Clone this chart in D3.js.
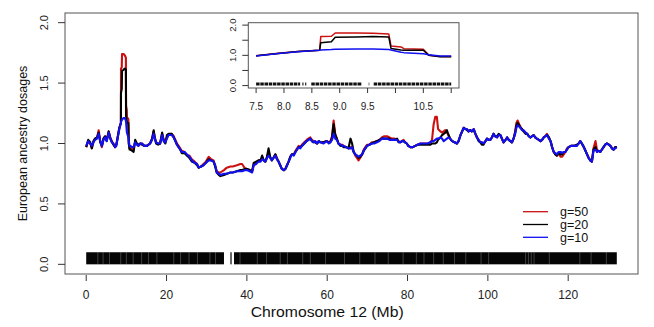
<!DOCTYPE html>
<html><head><meta charset="utf-8">
<script src="https://cdn.jsdelivr.net/npm/d3@7"></script>
<style>
html,body{margin:0;padding:0;background:#fff;}
svg{display:block;font-family:"Liberation Sans",Arial,Helvetica,sans-serif;}
</style></head>
<body>
<svg id="chart" width="654" height="327"></svg>
<script>
// ---------------- DATA ----------------
const positions = [
  0,0.5,1,1.4,1.8,2.2,2.7,3.1,3.5,3.9,4.3,4.7,5.1,5.6,6.0,6.4,6.8,7.2,7.5,7.9,
  8.25,8.64,8.66,8.85,8.92,9.3,9.6,9.88,9.92,10.1,10.15,10.5,10.6,10.8,11.0,11.4,11.8,
  12.2,12.6,13.0,13.5,13.9,14.5,15.1,15.9,16.4,16.8,17.1,17.4,17.9,18.4,18.9,19.3,19.7,20.1,20.5,21.3,21.8,22.2,22.6,23.0,23.4,23.8,
  24.5,25.1,25.7,26.3,27.0,27.6,28.0,28.6,29.2,29.8,30.5,31.1,31.7,32.1,32.5,33.0,33.4,
  34.3,35.0,35.9,36.5,37.5,38.4,38.8,39.6,40.0,40.7,41.3,41.7,42.3,42.9,43.4,43.8,44.2,44.6,45.0,45.4,45.8,46.2,46.6,47.1,47.5,47.9,48.3,48.7,49.2,49.6,
  50.0,50.4,50.8,51.2,51.7,52.1,52.5,52.9,53.3,53.7,54.3,54.9,55.3,55.8,56.2,56.6,57.0,57.5,57.9,58.3,59.1,59.9,60.4,60.8,61.2,61.6,62.0,62.4,62.8,
  63.3,63.7,64.1,64.7,65.3,65.8,66.2,66.6,67.0,67.4,67.8,68.2,68.7,69.1,69.5,69.9,70.5,71.1,71.7,72.4,73.0,73.6,74.2,74.9,75.5,76.1,76.8,77.4,77.8,78.2,78.6,79.0,79.4,79.8,
  80.2,80.7,81.3,81.9,82.5,83.2,83.8,84.4,85.0,85.7,86.1,86.5,86.9,87.3,87.6,88.2,88.6,89.0,89.4,89.8,90.2,90.6,91.1,91.7,92.3,92.7,93.2,93.6,94.0,94.4,94.8,95.2,95.6,96.0,96.5,96.9,97.3,97.7,98.1,98.5,98.9,
  99.4,99.8,100.2,100.6,101.0,101.4,101.8,102.3,102.7,103.1,103.5,103.9,104.4,104.8,105.2,105.6,106.0,106.4,106.8,107.1,107.4,107.8,108.1,108.5,108.9,109.4,109.8,110.2,110.6,111.0,111.4,111.8,112.2,112.7,113.1,113.5,113.9,114.3,114.7,115.2,115.6,
  116.0,116.4,116.8,117.2,117.6,118.1,118.5,118.9,119.3,119.7,120.1,120.7,121.4,122.2,122.6,123.0,123.4,123.9,124.3,124.7,125.1,125.5,125.9,126.3,126.8,127.2,127.6,128.0,128.4,128.8,129.2,129.7,130.1,130.5,130.9,131.3,131.7,132.1
];
const g10 = [
  .98,1.02,1.00,.98,1.01,1.03,1.04,1.08,1.02,.98,1.03,1.05,1.02,1.09,1.04,1.01,1.00,.97,.98,1.06,
  1.12,1.17,1.18,1.19,1.20,1.21,1.21,1.19,1.18,1.10,1.09,1.05,1.02,.98,.98,.97,.97,
  1.01,.99,.98,1.00,1.00,.98,.98,1.00,1.03,1.08,1.04,1.01,1.00,1.00,1.07,1.02,1.01,1.04,1.07,1.07,1.05,1.02,.99,.97,.95,.93,
  .93,.91,.89,.86,.84,.83,.80,.81,.82,.84,.86,.86,.85,.82,.76,.75,.74,
  .75,.75,.76,.76,.77,.77,.77,.78,.78,.77,.76,.82,.83,.85,.85,.87,.86,.85,.88,.90,.88,.86,.88,.90,.87,.85,.82,.79,.78,.79,
  .82,.85,.88,.91,.90,.93,.95,.97,.96,.98,1.00,1.02,1.03,1.04,1.02,1.01,1.02,1.00,1.02,1.01,1.00,1.02,1.00,1.01,1.03,1.08,1.04,1.03,1.00,
  .99,.98,.98,.97,.96,.96,.97,.93,.91,.90,.89,.90,.91,.94,.96,.98,.99,1.00,1.00,1.01,1.02,1.04,1.04,1.04,1.03,1.03,1.03,1.03,1.01,1.01,1.02,1.02,1.01,1.00,
  .98,.97,.97,.98,.99,1.00,1.00,1.00,1.00,1.01,1.02,1.02,1.03,1.04,1.04,1.05,1.04,1.02,1.03,1.04,1.05,1.04,1.02,1.01,1.00,1.02,1.07,1.10,1.13,1.12,1.12,1.10,1.11,1.10,1.12,1.08,1.05,1.03,1.01,1.01,1.00,
  1.02,1.04,1.03,1.03,1.05,1.08,1.06,1.05,1.07,1.07,1.04,1.01,1.03,1.05,1.03,1.02,1.01,1.04,1.08,1.13,1.15,1.14,1.13,1.11,1.11,1.09,1.08,1.06,1.05,1.06,1.07,1.05,1.04,1.03,1.02,1.03,1.05,1.06,1.07,1.04,1.02,
  .97,.93,.92,.91,.93,.93,.92,.93,.93,.95,.97,.98,.98,.98,1.00,1.02,1.00,.97,.94,.91,.88,.86,.85,.94,.95,.93,.94,.93,.95,.97,.99,1.00,.99,.98,.96,.95,.96,.97
];
const g20 = [
  .97,1.03,1.01,.96,1.02,1.04,1.05,1.09,1.01,.98,1.04,1.06,1.02,1.10,1.04,1.01,.99,.97,.99,1.06,
  1.13,1.17,1.42,1.45,1.60,1.61,1.62,1.61,1.23,1.18,1.17,1.17,1.00,.95,.95,.94,.93,
  1.03,1.00,.99,1.00,.99,.98,.98,1.00,1.04,1.11,1.04,1.00,.99,1.00,1.09,1.02,1.00,1.07,1.08,1.08,1.05,1.02,.99,.97,.95,.92,
  .92,.90,.88,.85,.84,.82,.80,.81,.82,.84,.87,.86,.85,.81,.76,.74,.73,
  .74,.75,.76,.76,.77,.78,.78,.79,.79,.78,.77,.84,.85,.86,.86,.90,.86,.85,.89,.96,.89,.86,.88,.91,.87,.85,.82,.79,.78,.79,
  .82,.85,.89,.91,.91,.93,.95,.97,.97,.98,1.00,1.02,1.03,1.04,1.02,1.01,1.01,1.00,1.02,1.01,1.01,1.02,1.01,1.01,1.05,1.16,1.07,1.04,1.00,
  .98,.98,.97,.97,.96,1.04,1.00,.93,.91,.90,.88,.89,.91,.94,.96,.98,.99,1.00,1.01,1.02,1.03,1.04,1.04,1.04,1.04,1.03,1.03,1.04,1.01,1.01,1.02,1.02,1.01,1.00,
  .98,.97,.97,.98,.99,.99,.99,.99,.99,.99,1.00,1.00,1.00,1.01,1.03,1.05,1.07,1.08,1.09,1.11,1.07,1.04,1.02,1.01,1.00,1.02,1.07,1.10,1.13,1.12,1.11,1.10,1.11,1.10,1.11,1.08,1.05,1.02,1.01,.99,.99,
  1.02,1.04,1.03,1.03,1.05,1.08,1.06,1.06,1.08,1.07,1.04,1.01,1.03,1.05,1.03,1.02,1.01,1.04,1.09,1.15,1.17,1.15,1.13,1.12,1.10,1.08,1.08,1.06,1.05,1.06,1.07,1.05,1.04,1.03,1.02,1.03,1.05,1.06,1.07,1.05,1.02,
  .97,.93,.91,.90,.92,.91,.91,.93,.93,.95,.97,.98,.98,.99,1.00,1.02,1.00,.97,.94,.91,.88,.86,.85,.95,.97,.93,.94,.93,.95,.97,.99,1.00,.99,.98,.96,.95,.97,.97
];
const g50 = [
  .97,1.02,1.00,.96,1.01,1.04,1.05,1.11,1.02,.97,1.04,1.06,1.03,1.10,1.05,1.02,.99,.97,.99,1.07,
  1.13,1.17,1.62,1.63,1.74,1.74,1.73,1.71,1.31,1.28,1.22,1.20,1.00,.96,.96,.96,.95,
  1.02,1.00,.98,1.00,1.00,.98,.98,1.00,1.04,1.10,1.05,1.01,1.00,1.00,1.08,1.03,1.01,1.05,1.07,1.08,1.06,1.03,1.00,.98,.96,.94,
  .93,.90,.90,.87,.85,.83,.80,.81,.83,.85,.89,.87,.86,.82,.77,.76,.76,
  .78,.80,.81,.81,.82,.83,.83,.79,.79,.78,.77,.82,.84,.86,.86,.88,.86,.85,.88,.93,.88,.87,.88,.91,.88,.85,.82,.79,.78,.79,
  .82,.85,.89,.91,.91,.94,.96,.98,.97,.99,1.01,1.03,1.04,1.05,1.03,1.02,1.02,1.00,1.02,1.01,1.01,1.02,1.01,1.02,1.06,1.19,1.08,1.04,1.00,
  .99,.99,.98,.97,.96,.97,.96,.93,.90,.88,.86,.88,.91,.95,.97,.99,.99,1.01,1.01,1.02,1.03,1.05,1.06,1.06,1.05,1.04,1.04,1.03,1.02,1.01,1.02,1.03,1.01,1.00,
  .98,.97,.97,.98,.99,1.00,1.00,1.00,1.00,1.01,1.03,1.16,1.22,1.22,1.12,1.10,1.09,1.10,1.11,1.09,1.07,1.04,1.02,1.01,1.00,1.02,1.07,1.10,1.13,1.12,1.12,1.10,1.11,1.10,1.12,1.08,1.05,1.03,1.01,1.01,1.00,
  1.02,1.04,1.03,1.03,1.05,1.08,1.06,1.05,1.07,1.07,1.04,1.01,1.03,1.05,1.03,1.02,1.01,1.04,1.10,1.17,1.19,1.16,1.14,1.12,1.10,1.09,1.08,1.06,1.05,1.06,1.07,1.05,1.04,1.03,1.02,1.03,1.05,1.06,1.08,1.05,1.02,
  .97,.93,.91,.90,.92,.89,.89,.91,.93,.96,.97,.98,.98,.99,1.00,1.02,1.00,.97,.94,.91,.88,.86,.85,.96,1.02,.94,.94,.93,.95,.97,.99,1.00,.99,.98,.96,.95,.97,.97
];
const seriesNames = ["g=50","g=20","g=10"];
const seriesColors = ["#CC1010","#000000","#1010F0"];

// marker coverage (Mb) shown as rug
const rugBlocks = [[0,34.3],[35.9,36.2],[36.8,132.1]];
const rugGaps = [2.9,4.2,5.8,8.6,10.0,11.7,13.8,15.5,17.6,21.8,23.5,25.6,27.7,30.8,32.2,38.3,42.6,44.9,48.3,50.1,53.9,55.8,59.6,64.3,68.1,71.9,75.2,78.9,82.2,84.1,86.5,88.9,91.7,94.5,98.3,100.2,109.4,110.1,110.8,111.5,115.3,122.9,125.7,129.5];
const insetRugBlocks = [[7.5,8.29],[8.33,8.35],[8.38,8.40],[8.49,9.40],[9.52,9.53],[9.61,11.0]];

const xTicks = [0,20,40,60,80,100,120];
const yTicks = [0,0.5,1,1.5,2];
const yTickLabels = ["0.0","0.5","1.0","1.5","2.0"];
const insetXTicks = [7.5,8.0,8.5,9.0,9.5,10.0,10.5,11.0];
const insetXLabels = ["7.5","8.0","8.5","9.0","9.5","","10.5",""];
const insetYTicks = [0,0.5,1,1.5,2];
const insetYLabels = ["0.0","","1.0","","2.0"];
const xTitle = "Chromosome 12 (Mb)";
const yTitle = "European ancestry dosages";

// ---------------- DRAW ----------------
const svg = d3.select("#chart");
const n = Math.min(positions.length, g10.length, g20.length, g50.length);
const rows = d3.range(n).map(i => ({pos: positions[i], v: [g50[i], g20[i], g10[i]]}));

const box = {l: 65, r: 638, t: 13, b: 274};
const x = d3.scaleLinear().domain([-5.28, 137.38]).range([box.l, box.r]);
const y = d3.scaleLinear().domain([-0.08, 2.08]).range([box.b, box.t]);

// rug
const rugG = svg.append("g");
rugG.selectAll("rect").data(rugBlocks).join("rect")
  .attr("x", d => x(d[0])).attr("width", d => Math.max(1, x(d[1]) - x(d[0])))
  .attr("y", y(0.1)).attr("height", y(0) - y(0.1)).attr("fill", "#050505");
rugG.selectAll("line").data(rugGaps).join("line")
  .attr("x1", d => x(d)).attr("x2", d => x(d))
  .attr("y1", y(0.1)).attr("y2", y(0))
  .attr("stroke", "#fff").attr("stroke-opacity", 0.3).attr("stroke-width", 0.8);

// lines
const lineFor = k => d3.line().x(d => x(d.pos)).y(d => y(d.v[k]));
seriesNames.forEach((s, k) => {
  svg.append("path").datum(rows).attr("d", lineFor(k))
    .attr("fill", "none").attr("stroke", seriesColors[k])
    .attr("stroke-width", 2.1).attr("stroke-linejoin", "round");
});

// box
svg.append("rect").attr("x", box.l).attr("y", box.t)
  .attr("width", box.r - box.l).attr("height", box.b - box.t)
  .attr("fill", "none").attr("stroke", "#555").attr("stroke-width", 1);

// y axis
const yAx = svg.append("g");
yAx.selectAll("line").data(yTicks).join("line")
  .attr("x1", box.l - 7).attr("x2", box.l).attr("y1", d => y(d)).attr("y2", d => y(d))
  .attr("stroke", "#333");
yAx.selectAll("text").data(yTicks).join("text")
  .attr("transform", d => `translate(${box.l - 21},${y(d)}) rotate(-90)`)
  .attr("text-anchor", "middle").attr("dy", "0.35em")
  .attr("font-size", 11).attr("fill", "#222")
  .text((d, i) => yTickLabels[i]);
svg.append("text")
  .attr("transform", `translate(23,${(box.t + box.b) / 2}) rotate(-90)`)
  .attr("text-anchor", "middle").attr("dy", "0.35em")
  .attr("font-size", 12.5).attr("fill", "#111").text(yTitle);

// x axis
const xAx = svg.append("g");
xAx.selectAll("line").data(xTicks).join("line")
  .attr("x1", d => x(d)).attr("x2", d => x(d)).attr("y1", box.b + 1).attr("y2", box.b + 7)
  .attr("stroke", "#333");
xAx.selectAll("text").data(xTicks).join("text")
  .attr("x", d => x(d)).attr("y", 295).attr("dy", "0.35em")
  .attr("text-anchor", "middle").attr("font-size", 12).attr("fill", "#222")
  .text(d => d);
svg.append("text").attr("x", x(60)).attr("y", 312).attr("dy", "0.35em")
  .attr("text-anchor", "middle").attr("font-size", 14)
  .attr("textLength", 153).attr("lengthAdjust", "spacingAndGlyphs")
  .attr("fill", "#111").text(xTitle);

// legend
const leg = svg.append("g");
seriesNames.forEach((s, k) => {
  const ly = 211.7 + k * 12.8;
  leg.append("line").attr("x1", 523).attr("x2", 548).attr("y1", ly).attr("y2", ly)
    .attr("stroke", seriesColors[k]).attr("stroke-width", 1.3);
  leg.append("text").attr("x", 560).attr("y", ly).attr("dy", "0.35em")
    .attr("font-size", 12.5).attr("fill", "#111").text(s);
});

// ---------------- INSET ----------------
const ib = {l: 248.3, r: 459, t: 22.7, b: 88};
const ix = d3.scaleLinear().domain([7.36, 11.14]).range([ib.l, ib.r]);
const iy = d3.scaleLinear().domain([-0.08, 2.08]).range([ib.b, ib.t]);
const inset = svg.append("g");
inset.append("rect").attr("x", ib.l).attr("y", ib.t).attr("width", ib.r - ib.l)
  .attr("height", ib.b - ib.t).attr("fill", "#fff");
inset.selectAll("line.rug").data(insetRugBlocks).join("line").attr("class", "rug")
  .attr("x1", d => ix(d[0])).attr("x2", d => ix(d[1]))
  .attr("y1", iy(0.055)).attr("y2", iy(0.055))
  .attr("stroke", "#111").attr("stroke-width", 3).attr("stroke-dasharray", "3.5 0.7");
const insetRows = rows.filter(d => d.pos >= 7.5 && d.pos <= 11.0);
seriesNames.forEach((s, k) => {
  inset.append("path").datum(insetRows)
    .attr("d", d3.line().x(d => ix(d.pos)).y(d => iy(d.v[k])))
    .attr("fill", "none").attr("stroke", seriesColors[k]).attr("stroke-width", 1.5)
    .attr("stroke-linejoin", "round");
});
inset.append("rect").attr("x", ib.l).attr("y", ib.t).attr("width", ib.r - ib.l)
  .attr("height", ib.b - ib.t).attr("fill", "none").attr("stroke", "#555");
inset.selectAll("line.yt").data(insetYTicks).join("line").attr("class", "yt")
  .attr("x1", ib.l - 6).attr("x2", ib.l).attr("y1", d => iy(d)).attr("y2", d => iy(d))
  .attr("stroke", "#333");
inset.selectAll("text.yl").data(insetYTicks).join("text").attr("class", "yl")
  .attr("transform", d => `translate(${ib.l - 16},${iy(d)}) rotate(-90)`)
  .attr("text-anchor", "middle").attr("dy", "0.35em").attr("font-size", 9.5).attr("fill", "#222")
  .text((d, i) => insetYLabels[i]);
inset.selectAll("line.xt").data(insetXTicks).join("line").attr("class", "xt")
  .attr("x1", d => ix(d)).attr("x2", d => ix(d)).attr("y1", ib.b).attr("y2", ib.b + 5)
  .attr("stroke", "#333");
inset.selectAll("text.xl").data(insetXTicks).join("text").attr("class", "xl")
  .attr("x", d => ix(d)).attr("y", 106).attr("dy", "0.35em").attr("text-anchor", "middle")
  .attr("font-size", 10).attr("fill", "#222")
  .text((d, i) => insetXLabels[i]);
</script>
</body></html>
